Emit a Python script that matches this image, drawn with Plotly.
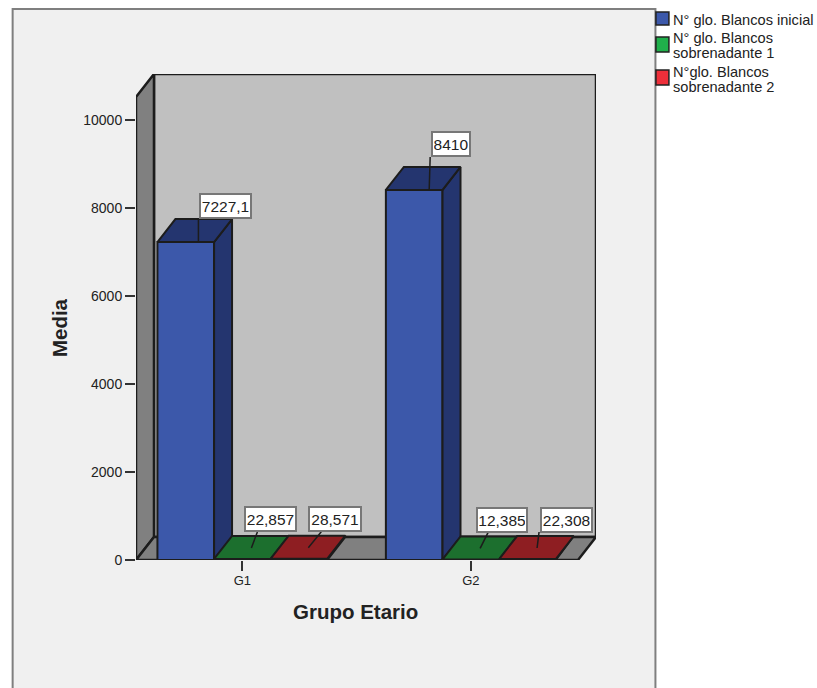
import plotly.graph_objects as go

# Mean white-cell counts per age group
groups = ["G1", "G2"]
series_names = ["N° glo. Blancos inicial", "N° glo. Blancos sobrenadante 1", "N°glo. Blancos sobrenadante 2"]
inicial = [7227.1, 8410]
sobrenadante_1 = [22.857, 12.385]
sobrenadante_2 = [28.571, 22.308]
y_ticks = [0, 2000, 4000, 6000, 8000, 10000]

series = [inicial, sobrenadante_1, sobrenadante_2]
front_colors = ["#3c58aa", "#20b04b", "#ee2f3a"]
top_colors = ["#24356f", "#1c6f2e", "#8e1e22"]
side_colors = ["#24356f", "#1c6f2e", "#8e1e22"]
EDGE = "#1c1c1c"
TEXT = "#222222"
FONT = "Liberation Sans"

# Plot box in pixels and the scale of each axis
L, R, T, B = 135.5, 596, 74, 560
W, H = 817, 688
PX_PER_GROUP = 228.7
PX_PER_UNIT = 0.044
ZERO_X = 242
x_range = [(L - ZERO_X) / PX_PER_GROUP, (R - ZERO_X) / PX_PER_GROUP]
y_range = [0, (B - T) / PX_PER_UNIT]
BAR_W = 56.7 / PX_PER_GROUP
DEPTH_X = 18 / PX_PER_GROUP
DEPTH_Y = 23 / PX_PER_UNIT


def px_x(px):
    return px / PX_PER_GROUP


def px_y(px):
    return px / PX_PER_UNIT


def paper_x(px):
    return (px - L) / (R - L)


def paper_y(py):
    return (B - py) / (B - T)


fig = go.Figure()

# Front faces of the bars
for name, vals, col in zip(series_names, series, front_colors):
    fig.add_trace(go.Bar(x=list(range(len(groups))), y=vals, name=name, showlegend=False,
                         marker=dict(color=col, line=dict(color=EDGE, width=2))))

# Top and side faces, offset by the depth of the box
for j, vals in enumerate(series):
    for i, v in enumerate(vals):
        c = i + (j - 1) * BAR_W
        x0, x1 = c - BAR_W / 2, c + BAR_W / 2
        fig.add_trace(go.Scatter(
            x=[x1, x1 + DEPTH_X, x1 + DEPTH_X, x1, x1], y=[0, DEPTH_Y, v + DEPTH_Y, v, 0],
            mode="lines", fill="toself", fillcolor=side_colors[j],
            line=dict(color=EDGE, width=2), showlegend=False, hoverinfo="skip"))
        fig.add_trace(go.Scatter(
            x=[x0, x1, x1 + DEPTH_X, x0 + DEPTH_X, x0], y=[v, v, v + DEPTH_Y, v + DEPTH_Y, v],
            mode="lines", fill="toself", fillcolor=top_colors[j],
            line=dict(color=EDGE, width=2), showlegend=False, hoverinfo="skip"))

# Value labels: box centre and leader ends, in pixels from the top-centre of each bar
label_layout = {
    (0, 0): ((40.2, 36.5), (12.7, 0), (12.7, 24), 53),
    (0, 1): ((37, 45.5), (15, 0), (16, 33), 40),
    (1, 0): ((28.5, 39.5), (9, 11), (15, 27), 53),
    (1, 1): ((31.3, 39.5), (9.3, 11), (17.3, 27), 52),
    (2, 0): ((36.3, 39.5), (9.3, 11), (22.3, 27), 54),
    (2, 1): ((39.1, 39.5), (9.6, 11), (11.6, 27), 53),
}
annotations = []
for j, vals in enumerate(series):
    for i, v in enumerate(vals):
        c = i + (j - 1) * BAR_W
        box, foot, head, bw = label_layout[(j, i)]
        fig.add_trace(go.Scatter(
            x=[c + px_x(foot[0]), c + px_x(head[0])], y=[v + px_y(foot[1]), v + px_y(head[1])],
            mode="lines", line=dict(color=EDGE, width=1.5), showlegend=False, hoverinfo="skip"))
        annotations.append(dict(
            x=c, y=v, xref="x", yref="y", xshift=box[0], yshift=box[1], showarrow=False,
            text=f"{v:g}".replace(".", ","), font=dict(family=FONT, size=15.5, color=TEXT),
            bgcolor="white", bordercolor="#777777", borderwidth=2, borderpad=1,
            width=bw - 6, height=20, align="center", xanchor="center", yanchor="middle"))

# Axis titles
annotations.append(dict(x=paper_x(355.5), y=paper_y(611), xref="paper", yref="paper", showarrow=False,
                        text="<b>Grupo Etario</b>", font=dict(family=FONT, size=20.5, color=TEXT),
                        xanchor="center", yanchor="middle"))
annotations.append(dict(x=paper_x(58.5), y=paper_y(328), xref="paper", yref="paper", showarrow=False,
                        text="<b>Media</b>", textangle=-90, font=dict(family=FONT, size=20.5, color=TEXT),
                        xanchor="center", yanchor="middle"))

# Legend entries, one text line at a time so the leading stays tight
legend_lines = [
    (673, 20, "N° glo. Blancos inicial"),
    (673, 38, "N° glo. Blancos"),
    (673, 53, "sobrenadante 1"),
    (673, 72, "N°glo. Blancos"),
    (673, 87, "sobrenadante 2"),
]
for lx, ly, txt in legend_lines:
    annotations.append(dict(x=paper_x(lx), y=paper_y(ly), xref="paper", yref="paper", showarrow=False,
                            text=txt, font=dict(family=FONT, size=14.6, color=TEXT),
                            xanchor="left", yanchor="middle", xshift=-2))

shapes = []


def paper_rect(x0, y0, x1, y1, fill, line, width):
    shapes.append(dict(type="rect", xref="paper", yref="paper", layer="below",
                       x0=paper_x(x0), x1=paper_x(x1), y0=paper_y(y0), y1=paper_y(y1),
                       fillcolor=fill, line=dict(color=line, width=width)))


# Chart panel and legend swatches
paper_rect(12, 9, 655.5, 720, "#f0f0f0", "#7f7f7f", 2)
for (y0, y1), col in zip([(12, 25), (37, 52), (70, 85)], front_colors):
    paper_rect(656, y0, 669, y1, col, "#222222", 1.5)


def wall_path(points):
    return "M" + " L".join(f"{x},{y}" for x, y in points) + " Z"


x_lo, x_hi = x_range
top = y_range[1]
walls = [
    # back wall
    ([(x_lo + DEPTH_X, DEPTH_Y), (x_hi, DEPTH_Y), (x_hi, top), (x_lo + DEPTH_X, top)], "#c0c0c0"),
    # left wall
    ([(x_lo, 0), (x_lo + DEPTH_X, DEPTH_Y), (x_lo + DEPTH_X, top), (x_lo, top - DEPTH_Y)], "#808080"),
    # floor
    ([(x_lo, 0), (x_hi - DEPTH_X, 0), (x_hi, DEPTH_Y), (x_lo + DEPTH_X, DEPTH_Y)], "#808080"),
]
for pts, col in walls:
    shapes.append(dict(type="path", xref="x", yref="y", layer="below", path=wall_path(pts),
                       fillcolor=col, line=dict(color=EDGE, width=2.5)))

fig.update_layout(
    width=W, height=H, autosize=False,
    margin=dict(l=L, r=W - R, t=T, b=H - B, pad=0),
    paper_bgcolor="white", plot_bgcolor="rgba(0,0,0,0)",
    barmode="group", bargap=1 - 3 * BAR_W, bargroupgap=0,
    showlegend=False, shapes=shapes, annotations=annotations,
    font=dict(family=FONT, color=TEXT),
    xaxis=dict(range=x_range, tickmode="array", tickvals=list(range(len(groups))), ticktext=groups,
               ticks="outside", ticklen=10, tickwidth=1.5, tickcolor="#333333",
               showgrid=False, zeroline=False, showline=False, ticklabelstandoff=-2,
               tickfont=dict(family=FONT, size=13, color=TEXT)),
    yaxis=dict(range=y_range, tickmode="array", tickvals=y_ticks, ticktext=[str(t) for t in y_ticks],
               ticks="outside", ticklen=10, tickwidth=1.5, tickcolor="#333333",
               showgrid=False, zeroline=False, showline=False,
               tickfont=dict(family=FONT, size=14, color=TEXT)),
)

fig.write_html("out.html", config=dict(displayModeBar=False))
